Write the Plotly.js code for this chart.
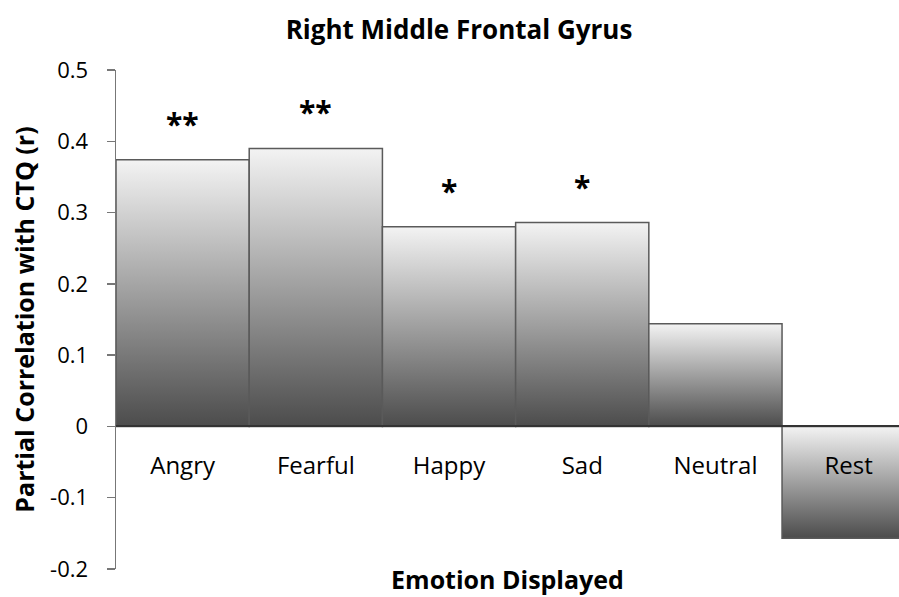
<!DOCTYPE html>
<html>
<head>
<meta charset="utf-8">
<script src="https://cdn.plot.ly/plotly-3.0.1.min.js"></script>
<style>
html,body{margin:0;padding:0;background:#fff;}
#chart{width:899px;height:597px;}
</style>
</head>
<body>
<div id="chart"></div>
<script>
// ---- data ----
var categories = ["Angry", "Fearful", "Happy", "Sad", "Neutral", "Rest"];
var correlations = [0.374, 0.390, 0.280, 0.286, 0.144, -0.157];
var significance = ["**", "**", "*", "*", "", ""];
var yTickValues = [-0.2, -0.1, 0, 0.1, 0.2, 0.3, 0.4, 0.5];
var yTickLabels = ["-0.2", "-0.1", "0", "0.1", "0.2", "0.3", "0.4", "0.5"];

var FONT = "Open Sans, Noto Sans, sans-serif";

var trace = {
  type: "bar",
  x: categories,
  y: correlations,
  marker: { color: "#9a9a9a", line: { color: "#5a5a5a", width: 1.5 } },
  hoverinfo: "x+y"
};

var annotations = [];
for (var i = 0; i < categories.length; i++) {
  if (!significance[i]) continue;
  annotations.push({
    x: categories[i], y: correlations[i], xref: "x", yref: "y",
    text: significance[i], showarrow: false,
    yanchor: "bottom", yshift: 14,
    font: { family: FONT, size: 30, color: "#000", weight: "bold" }
  });
}

var layout = {
  width: 899, height: 597,
  margin: { l: 116, r: 0, t: 70, b: 28, pad: 0 },
  paper_bgcolor: "#fff", plot_bgcolor: "#fff",
  showlegend: false,
  bargap: 0,
  title: {
    text: "<b>Right Middle Frontal Gyrus</b>",
    x: 459 / 899, xanchor: "center", xref: "container",
    y: 1 - 30 / 597, yanchor: "middle", yref: "container",
    font: { family: FONT, size: 26, color: "#000" }
  },
  xaxis: {
    type: "category",
    range: [-0.5, 5.378],
    anchor: "free", position: 2 / 7,
    showline: true, linecolor: "#333333", linewidth: 2,
    ticks: "", showgrid: false, zeroline: false,
    ticklabelstandoff: 18,
    tickfont: { family: FONT, size: 24, color: "#000" },
    title: {
      text: "<b>Emotion Displayed</b>",
      font: { family: FONT, size: 25, color: "#000" },
      standoff: 90
    },
    fixedrange: true
  },
  yaxis: {
    range: [-0.2, 0.5],
    tickvals: yTickValues, ticktext: yTickLabels,
    showline: true, linecolor: "#777777", linewidth: 1.5,
    ticks: "outside", ticklen: 8, tickwidth: 1.5, tickcolor: "#777777",
    ticklabelstandoff: 14,
    showgrid: false, zeroline: false,
    tickfont: { family: FONT, size: 22, color: "#000" },
    title: {
      text: "<b>Partial Correlation with CTQ (r)</b>",
      font: { family: FONT, size: 25, color: "#000" },
      standoff: 8
    },
    fixedrange: true
  },
  annotations: annotations
};

var gd = document.getElementById("chart");
Plotly.newPlot(gd, [trace], layout, { displayModeBar: false, staticPlot: true }).then(function () {
  var svg = gd.querySelector("svg.main-svg");
  var NS = "http://www.w3.org/2000/svg";
  var defs = svg.querySelector("defs") || svg.insertBefore(document.createElementNS(NS, "defs"), svg.firstChild);
  var grad = document.createElementNS(NS, "linearGradient");
  grad.setAttribute("id", "barGrad");
  grad.setAttribute("x1", "0"); grad.setAttribute("y1", "0");
  grad.setAttribute("x2", "0"); grad.setAttribute("y2", "1");
  [["0%", "#f3f3f3"], ["100%", "#4c4c4c"]].forEach(function (s) {
    var st = document.createElementNS(NS, "stop");
    st.setAttribute("offset", s[0]);
    st.setAttribute("stop-color", s[1]);
    grad.appendChild(st);
  });
  defs.appendChild(grad);
  gd.querySelectorAll(".trace.bars .point path").forEach(function (p) {
    p.style.fill = "url(#barGrad)";
    p.style.fillOpacity = 1;
  });
});
</script>
</body>
</html>
